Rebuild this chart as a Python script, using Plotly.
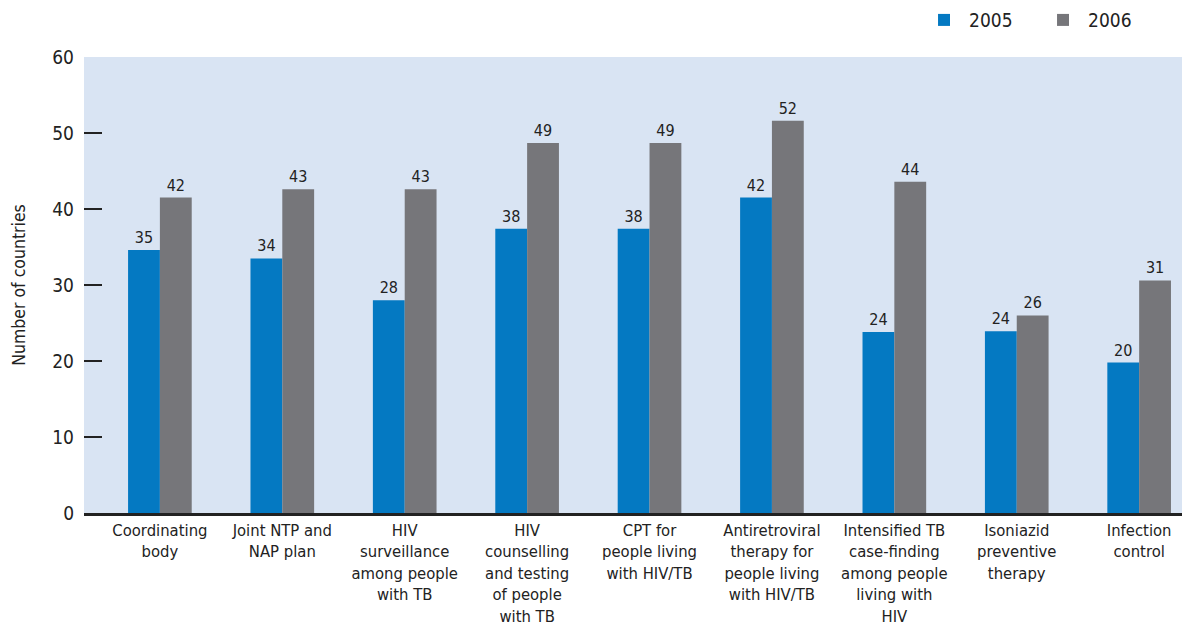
import plotly.graph_objects as go

categories = [
    "Coordinating<br>body",
    "Joint NTP and<br>NAP plan",
    "HIV<br>surveillance<br>among people<br>with TB",
    "HIV<br>counselling<br>and testing<br>of people<br>with TB",
    "CPT for<br>people living<br>with HIV/TB",
    "Antiretroviral<br>therapy for<br>people living<br>with HIV/TB",
    "Intensified TB<br>case-finding<br>among people<br>living with<br>HIV",
    "Isoniazid<br>preventive<br>therapy",
    "Infection<br>control",
]
values_2005 = [34.6, 33.5, 28.0, 37.4, 37.4, 41.5, 23.8, 23.9, 19.8]
values_2006 = [41.5, 42.6, 42.6, 48.7, 48.7, 51.6, 43.6, 26.0, 30.6]
labels_2005 = ["35", "34", "28", "38", "38", "42", "24", "24", "20"]
labels_2006 = ["42", "43", "43", "49", "49", "52", "44", "26", "31"]
y_ticks = [0, 10, 20, 30, 40, 50, 60]

FONT = "DejaVu Sans Condensed, Liberation Sans Narrow, sans-serif"
x = list(range(len(categories)))

fig = go.Figure()
fig.add_trace(go.Bar(
    x=x, y=values_2005, name="2005", marker=dict(color="#0479c2", line=dict(width=0)),
    text=labels_2005, textposition="outside", cliponaxis=False,
    textfont=dict(size=16, color="#222222", family=FONT),
))
fig.add_trace(go.Bar(
    x=x, y=values_2006, name="2006", marker=dict(color="#76767a", line=dict(width=0)),
    text=labels_2006, textposition="outside", cliponaxis=False,
    textfont=dict(size=16, color="#222222", family=FONT),
))

fig.update_layout(
    width=1182, height=631,
    margin=dict(l=84, r=0, t=57, b=118, autoexpand=False),
    paper_bgcolor="white", plot_bgcolor="#d9e4f3",
    barmode="group", bargap=0.48, bargroupgap=0,
    font=dict(family=FONT, size=17, color="#222222"),
    legend=dict(orientation="h", x=0.7605, xanchor="left", y=1.081, yanchor="middle",
                font=dict(size=19, family=FONT), itemwidth=40,
                entrywidth=64, entrywidthmode="pixels",
                traceorder="normal", bgcolor="rgba(0,0,0,0)"),
    xaxis=dict(
        tickmode="array", tickvals=x, ticktext=categories,
        range=[-0.62, 8.35], showgrid=False, zeroline=False,
        showline=True, linecolor="#222222", linewidth=3,
        ticks="", tickfont=dict(size=16.5, family=FONT, color="#222222"),
    ),
    yaxis=dict(
        range=[0, 60], tickvals=y_ticks, showgrid=False, zeroline=False,
        ticks="inside", ticklen=18, tickwidth=2, tickcolor="#222222",
        ticklabelstandoff=9,
        tickfont=dict(size=19, family=FONT, color="#222222"),
        title=dict(text="Number of countries", font=dict(size=17.5, family=FONT), standoff=22),
    ),
)

fig.write_html("out.html")
